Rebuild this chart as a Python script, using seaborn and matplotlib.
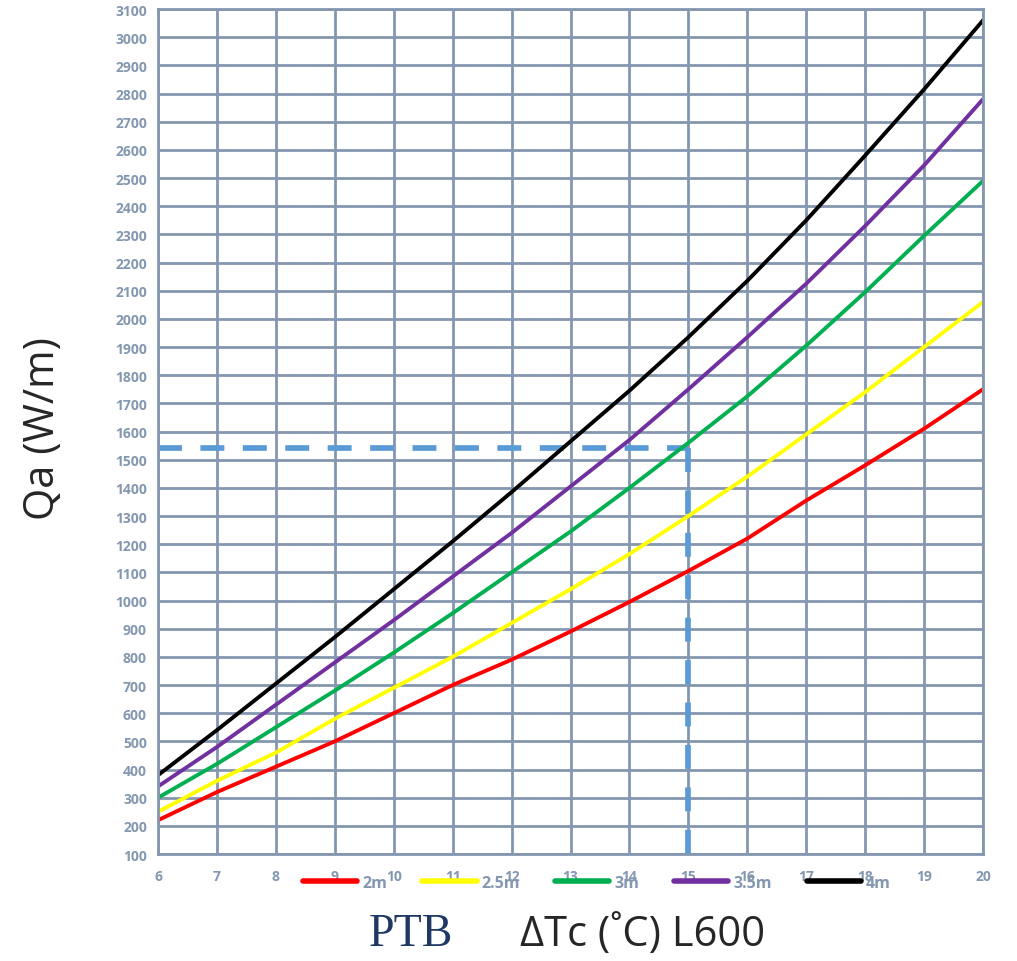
import pandas as pd
import matplotlib.pyplot as plt
import seaborn as sns

# 데이터
dT = [6, 7, 8, 9, 10, 11, 12, 13, 14, 15, 16, 17, 18, 19, 20]
q_2m = [220, 320, 410, 500, 600, 700, 790, 890, 995, 1105, 1220, 1355, 1480, 1610, 1750]
q_25m = [250, 360, 460, 580, 690, 800, 920, 1040, 1165, 1300, 1440, 1590, 1740, 1900, 2060]
q_3m = [300, 420, 550, 680, 815, 955, 1100, 1245, 1400, 1560, 1725, 1905, 2095, 2295, 2490]
q_35m = [340, 480, 630, 780, 930, 1085, 1240, 1405, 1570, 1750, 1935, 2125, 2330, 2545, 2780]
q_4m = [380, 540, 705, 870, 1040, 1210, 1385, 1565, 1745, 1935, 2135, 2350, 2580, 2815, 3060]
series_names = ['2m', '2.5m', '3m', '3.5m', '4m']
series_colors = ['#FF0000', '#FFFF00', '#00B050', '#7030A0', '#000000']

# 선택점 (점선)
sel_x = 15
sel_q = 1540

grid_col = '#8497B0'

df = pd.DataFrame({
    'dT': dT * 5,
    'Qa': q_2m + q_25m + q_3m + q_35m + q_4m,
    'H': [n for n in series_names for _ in dT],
})

sns.set_style('white')
plt.rcParams['font.family'] = ['Open Sans', 'DejaVu Sans']

fig = plt.figure(figsize=(10.17, 9.62), dpi=100)
ax = fig.add_axes([0.1554, 0.1112, 0.8112, 0.8784])

sns.lineplot(data=df, x='dT', y='Qa', hue='H', hue_order=series_names,
             palette=series_colors, linewidth=2.8, ax=ax)

# 점선
dash_style = (0, (4.2, 3.25))
ax.plot([6, sel_x], [sel_q, sel_q], color='#5B9BD5', linewidth=4.1, linestyle=dash_style,
        dash_capstyle='butt', zorder=1)
ax.plot([sel_x, sel_x], [sel_q, 100], color='#5B9BD5', linewidth=4.1, linestyle=dash_style,
        dash_capstyle='butt', zorder=1)

ax.set_xlim(6, 20)
ax.set_ylim(100, 3100)
ax.set_xticks(range(6, 21))
ax.set_yticks(range(100, 3101, 100))
ax.grid(True, color=grid_col, linewidth=2)
ax.set_axisbelow(True)
for s in ax.spines.values():
    s.set_color(grid_col)
    s.set_linewidth(2)
ax.tick_params(length=0, labelsize=10, labelcolor=grid_col, pad=8)
for lab in ax.get_xticklabels() + ax.get_yticklabels():
    lab.set_fontweight('bold')
ax.tick_params(axis='x', pad=11)
ax.set_xlabel('')
ax.set_ylabel('')

leg = ax.legend(loc='center', bbox_to_anchor=(0.532, -0.034), ncol=5, frameon=False,
                handlelength=3.4, handletextpad=0.3, columnspacing=2.2,
                prop={'weight': 'bold', 'size': 11.5})
for t in leg.get_texts():
    t.set_color(grid_col)
for h in leg.get_lines():
    h.set_linewidth(4)

fig.text(0.042, 0.555, 'Qa (W/m)', rotation=90, ha='center', va='center', fontsize=30)
fig.text(0.404, 0.028, 'PTB', ha='center', va='center', fontsize=33,
         family='Liberation Serif', color='#1F3864')
fig.text(0.632, 0.028, 'ΔTc (˚C) L600', ha='center', va='center', fontsize=30)

fig.savefig('out.png', dpi=100)
